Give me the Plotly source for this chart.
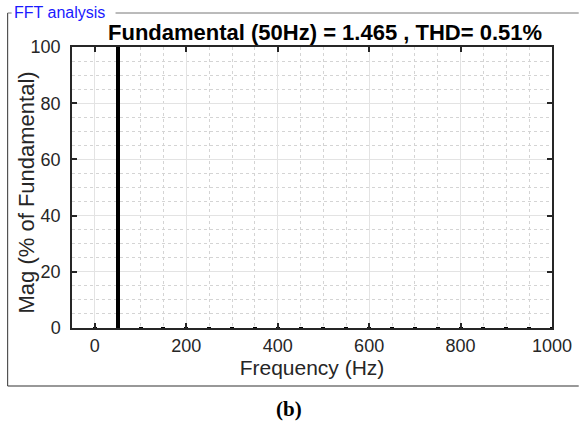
import plotly.graph_objects as go

# Harmonic frequencies (Hz) and magnitudes (% of fundamental)
freqs = [0, 50, 100, 150, 200, 250, 300, 350, 400, 450, 500, 550, 600, 650, 700, 750, 800, 850, 900, 950, 1000]
mags = [0.05, 100, 0.05, 0.1, 0.05, 0.35, 0.05, 0.15, 0.05, 0.05, 0.05, 0.05, 0.05, 0.05, 0.05, 0.05, 0.05, 0.05, 0.05, 0.05, 0.05]
title_text = "Fundamental (50Hz) = 1.465 , THD= 0.51%"
x_label = "Frequency (Hz)"
y_label = "Mag (% of Fundamental)"
x_ticks = [0, 200, 400, 600, 800, 1000]
y_ticks = [0, 20, 40, 60, 80, 100]

FONT = "Liberation Sans, Arial, sans-serif"
TXT = "#262626"

fig = go.Figure()
fig.add_trace(go.Bar(x=freqs, y=mags, width=9, marker=dict(color="black", line=dict(width=0))))

axis_common = dict(
    showline=True, linecolor="#262626", linewidth=1.5, mirror="ticks",
    ticks="inside", ticklen=5, tickwidth=1.5, tickcolor="#262626",
    showgrid=True, gridcolor="#e3e3e3", gridwidth=1,
    zeroline=False,
    tickfont=dict(family=FONT, size=18, color=TXT),
)

fig.update_xaxes(
    range=[-50, 1000], tickvals=x_ticks,
    title=dict(text=x_label, font=dict(family=FONT, size=21, color=TXT), standoff=0),
    minor=dict(dtick=50, tick0=0, showgrid=True, griddash="dot", gridcolor="#d4d4d4", gridwidth=1, ticks=""),
    ticklabelstandoff=1,
    **axis_common,
)
fig.update_yaxes(
    range=[0, 100], tickvals=y_ticks,
    minor=dict(dtick=5, tick0=0, showgrid=True, griddash="dot", gridcolor="#d4d4d4", gridwidth=1, ticks=""),
    ticklabelstandoff=6,
    **axis_common,
)

# Panel frame lines (paper coordinates via pixel conversion)
W, H = 584, 428
ml, mr, mt, mb = 72, 27, 47, 100
pw, ph = W - ml - mr, H - mt - mb

def px(x):
    return (x - ml) / pw

def py(y):
    return 1 - (y - mt) / ph

shapes = [
    dict(type="line", xref="paper", yref="paper", x0=px(7), x1=px(7), y0=py(13), y1=py(386), line=dict(color="#333", width=1)),
    dict(type="line", xref="paper", yref="paper", x0=px(7), x1=px(584), y0=py(386), y1=py(386), line=dict(color="#333", width=1.2)),
    dict(type="line", xref="paper", yref="paper", x0=px(7), x1=px(11), y0=py(13), y1=py(13), line=dict(color="#777", width=1)),
    dict(type="line", xref="paper", yref="paper", x0=px(116), x1=px(584), y0=py(13), y1=py(13), line=dict(color="#777", width=1)),
]

annotations = [
    dict(text="FFT analysis", xref="paper", yref="paper", x=px(11), y=py(13), xanchor="left", yanchor="middle",
         showarrow=False, font=dict(family=FONT, size=16, color="#1a1aff")),
    dict(text="<b>" + title_text + "</b>", xref="paper", yref="paper", x=px(328), y=py(33), xanchor="center", yanchor="middle",
         showarrow=False, font=dict(family=FONT, size=22, color="black")),
    dict(text=y_label, xref="paper", yref="paper", x=px(26), y=py(192), xanchor="center", yanchor="middle",
         textangle=-90, showarrow=False, font=dict(family=FONT, size=22, color=TXT)),
    dict(text="<b>(b)</b>", xref="paper", yref="paper", x=px(291), y=py(409), xanchor="center", yanchor="middle",
         showarrow=False, font=dict(family="Liberation Serif, Times New Roman, serif", size=21, color="black")),
]

fig.update_layout(
    width=W, height=H,
    margin=dict(l=ml, r=mr, t=mt, b=mb, pad=0),
    paper_bgcolor="white", plot_bgcolor="white",
    showlegend=False, bargap=0,
    shapes=shapes, annotations=annotations,
)

fig.write_html("out.html", config={"displayModeBar": False},
               post_script="document.body.style.margin='0';document.body.style.overflow='hidden';")
